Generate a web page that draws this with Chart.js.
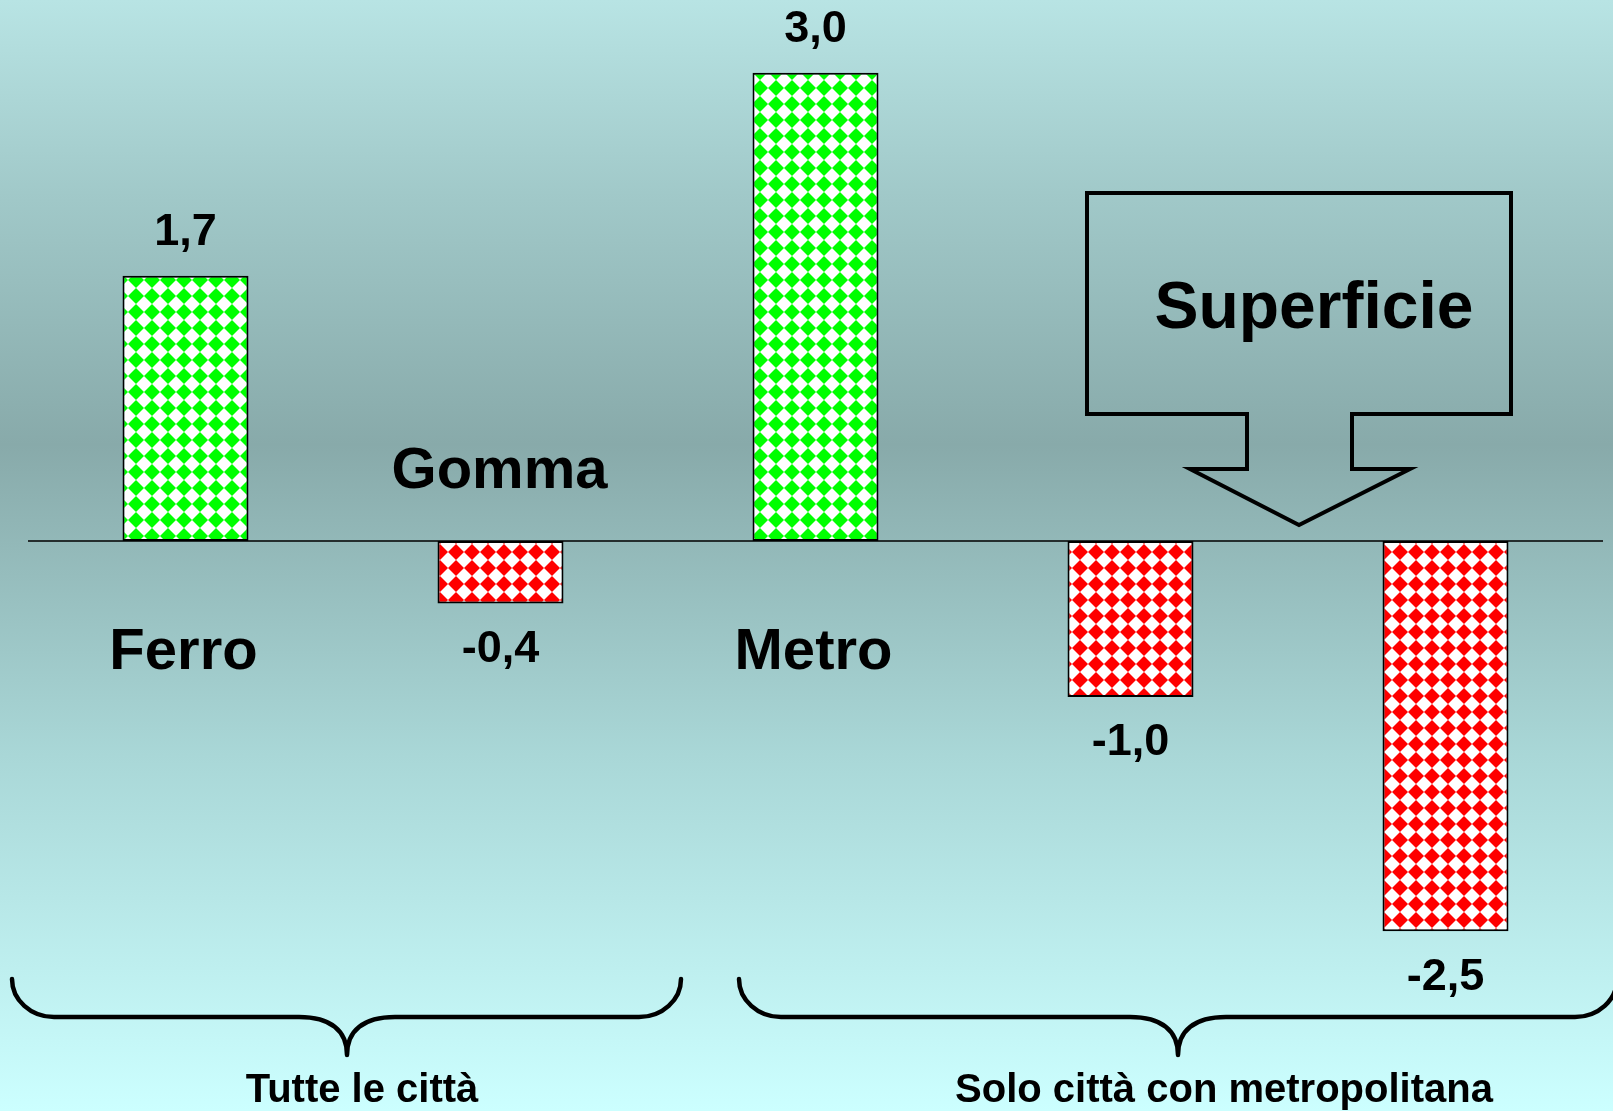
<!DOCTYPE html>
<html>
<head>
<meta charset="utf-8">
<script src="https://cdn.jsdelivr.net/npm/chart.js@4"></script>
<style>
html,body{margin:0;padding:0;overflow:hidden;background:#a8d0d0;}
canvas{display:block;}
</style>
</head>
<body>
<canvas id="c" width="1613" height="1111"></canvas>
<script>
// ---- data ----
const categoryLabels = ['Ferro', 'Gomma', 'Metro', '', ''];
const values = [1.7, -0.4, 3.0, -1.0, -2.5];
const groupLabels = ['Tutte le città', 'Solo città con metropolitana'];
const calloutText = 'Superficie';

const FONT = '"Liberation Sans", Arial, sans-serif';

function makePattern(color) {
  const s = 16;
  const c = document.createElement('canvas');
  c.width = s; c.height = s;
  const g = c.getContext('2d');
  g.fillStyle = '#ffffff';
  g.fillRect(0, 0, s, s);
  g.fillStyle = color;
  g.beginPath();
  g.moveTo(s / 2, 0);
  g.lineTo(s, s / 2);
  g.lineTo(s / 2, s);
  g.lineTo(0, s / 2);
  g.closePath();
  g.fill();
  return document.getElementById('c').getContext('2d').createPattern(c, 'repeat');
}
const greenPat = makePattern('#00ff00');
const redPat = makePattern('#ff0000');

const bgPlugin = {
  id: 'bg',
  beforeDraw(chart) {
    const ctx = chart.ctx;
    const h = chart.height;
    const gr = ctx.createLinearGradient(0, 0, 0, h);
    gr.addColorStop(0, '#b8e4e4');
    gr.addColorStop(0.18, '#a0c8c8');
    gr.addColorStop(0.40, '#88aaaa');
    gr.addColorStop(0.68, '#a9d7d7');
    gr.addColorStop(1, '#ccffff');
    ctx.save();
    ctx.fillStyle = gr;
    ctx.fillRect(0, 0, chart.width, h);
    ctx.restore();
  }
};

function drawBrace(ctx, x1, x2, xc, yTop, yMid, yTip, r, r2) {
  ctx.beginPath();
  ctx.moveTo(x1, yTop);
  ctx.ellipse(x1 + r, yTop, r, yMid - yTop, 0, Math.PI, Math.PI / 2, true);
  ctx.lineTo(xc - r2, yMid);
  ctx.bezierCurveTo(xc - r2 * 0.35, yMid, xc, yMid + (yTip - yMid) * 0.35, xc, yTip);
  ctx.moveTo(xc, yTip);
  ctx.bezierCurveTo(xc, yMid + (yTip - yMid) * 0.35, xc + r2 * 0.35, yMid, xc + r2, yMid);
  ctx.lineTo(x2 - r, yMid);
  ctx.ellipse(x2 - r, yTop, r, yMid - yTop, 0, Math.PI / 2, 0, true);
  ctx.stroke();
}

const annoPlugin = {
  id: 'anno',
  afterDatasetsDraw(chart) {
    const ctx = chart.ctx;
    const ys = chart.scales.y;
    const y0 = ys.getPixelForValue(0);
    const area = chart.chartArea;
    ctx.save();
    // zero line
    ctx.strokeStyle = '#000';
    ctx.lineWidth = 1.5;
    ctx.beginPath();
    ctx.moveTo(area.left, y0);
    ctx.lineTo(area.right, y0);
    ctx.stroke();

    const meta = chart.getDatasetMeta(0);
    ctx.fillStyle = '#000';
    ctx.textAlign = 'center';
    meta.data.forEach((bar, i) => {
      const v = values[i];
      const txt = v.toFixed(1).replace('.', ',');
      ctx.font = 'bold 45px ' + FONT;
      ctx.textBaseline = 'middle';
      if (v >= 0) ctx.fillText(txt, bar.x, bar.y - 43);
      else ctx.fillText(txt, bar.x, bar.y + 46);
      const lab = categoryLabels[i];
      if (lab) {
        ctx.font = 'bold 58px ' + FONT;
        ctx.textBaseline = 'alphabetic';
        if (v >= 0) ctx.fillText(lab, bar.x - 2, y0 + 128);
        else ctx.fillText(lab, bar.x - 1, y0 - 53);
      }
    });

    // callout arrow
    ctx.lineWidth = 4;
    ctx.lineJoin = 'miter';
    ctx.beginPath();
    const pts = [[1087,193],[1511,193],[1511,414],[1352,414],[1352,469],[1410,469],[1299,525],[1190,469],[1247,469],[1247,414],[1087,414]];
    ctx.moveTo(pts[0][0], pts[0][1]);
    for (let k = 1; k < pts.length; k++) ctx.lineTo(pts[k][0], pts[k][1]);
    ctx.closePath();
    ctx.stroke();
    ctx.font = 'bold 66px ' + FONT;
    ctx.textBaseline = 'alphabetic';
    ctx.fillText(calloutText, 1314, 328);

    // braces
    ctx.lineWidth = 4.5;
    ctx.lineCap = 'round';
    drawBrace(ctx, 12, 681, 347, 979, 1017, 1055, 42, 48);
    drawBrace(ctx, 739, 1617, 1178, 979, 1017, 1055, 42, 48);

    ctx.font = 'bold 40px ' + FONT;
    ctx.fillText(groupLabels[0], 362, 1102);
    ctx.fillText(groupLabels[1], 1224, 1102);
    ctx.restore();
  }
};

new Chart(document.getElementById('c'), {
  type: 'bar',
  data: {
    labels: categoryLabels,
    datasets: [{
      data: values,
      backgroundColor: (ctx) => (values[ctx.dataIndex] >= 0 ? greenPat : redPat),
      borderColor: '#000',
      borderWidth: 2,
      borderSkipped: false,
      barPercentage: 0.4,
      categoryPercentage: 1.0
    }]
  },
  options: {
    responsive: false,
    animation: false,
    devicePixelRatio: 1,
    layout: { padding: { left: 28, right: 10, top: 26, bottom: 55 } },
    plugins: { legend: { display: false }, tooltip: { enabled: false } },
    scales: {
      x: { display: false },
      y: { display: false, min: -3.3, max: 3.3 }
    }
  },
  plugins: [bgPlugin, annoPlugin]
});
</script>
</body>
</html>
